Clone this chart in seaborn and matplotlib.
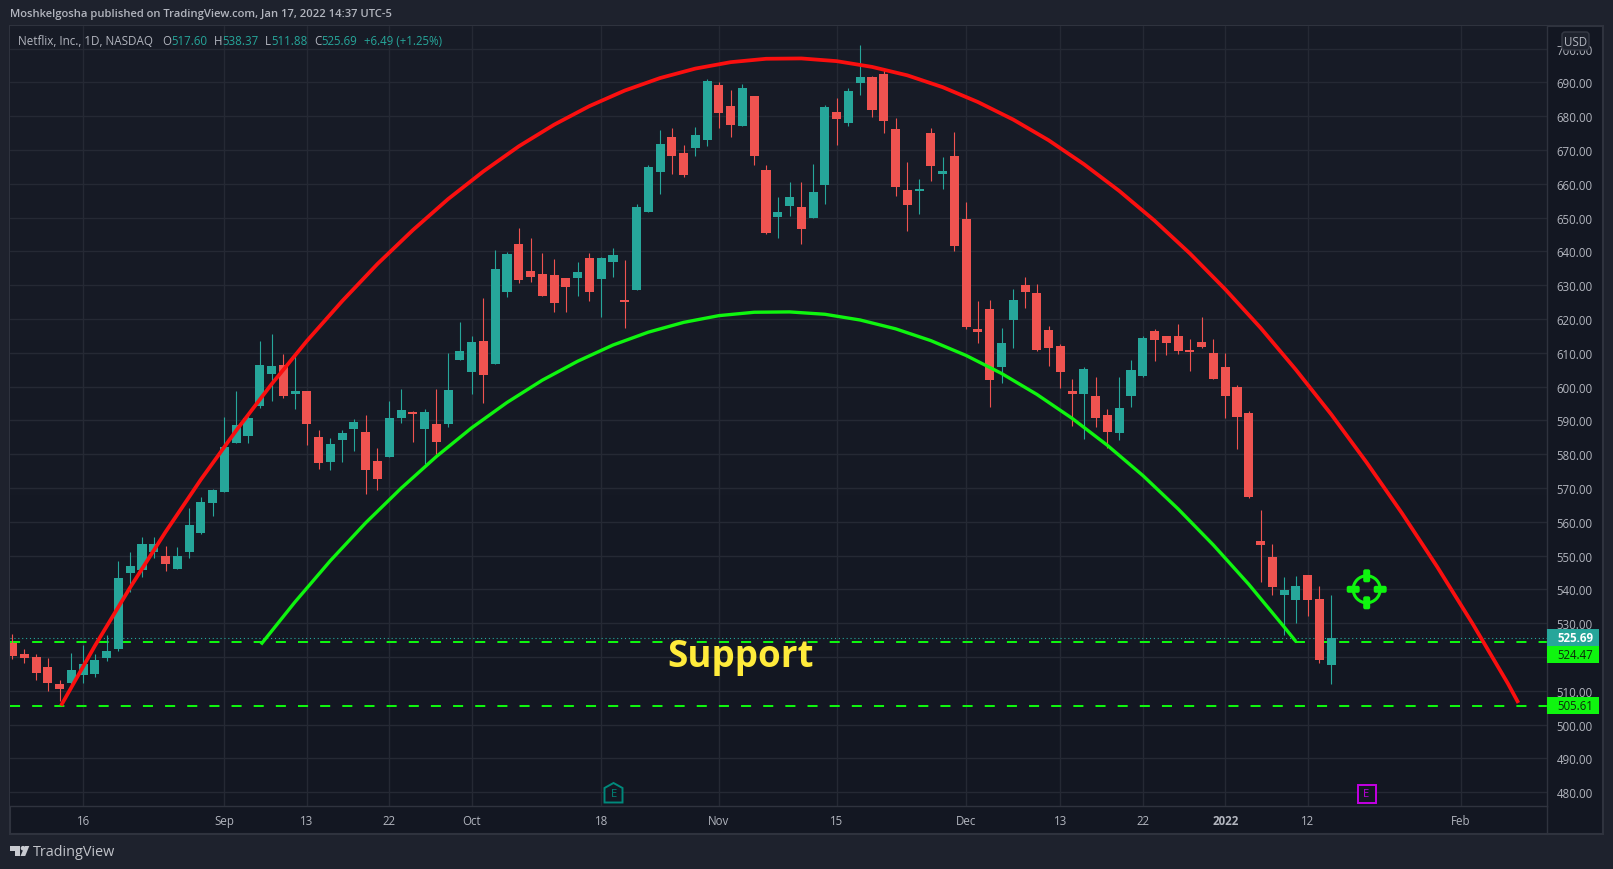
import numpy as np
import matplotlib
matplotlib.use("Agg")
import matplotlib.pyplot as plt
import seaborn as sns
from matplotlib.patches import Rectangle, Circle, Polygon, FancyBboxPatch
from matplotlib.transforms import IdentityTransform
from matplotlib.colors import LinearSegmentedColormap

tops = [524.2,521.0,519.9,516.9,511.9,516.0,517.8,519.0,521.9,543.5,546.8,553.3,553.3,550.0,550.0,558.9,566.0,569.3,582.0,588.5,
        590.6,606.5,606.0,606.5,598.6,598.6,585.0,582.9,586.4,589.4,586.7,578.1,590.6,593.2,592.3,592.6,588.8,598.9,610.6,613.2,
        613.6,634.8,639.2,642.2,634.2,633.3,633.0,632.2,633.9,638.1,638.1,639.0,625.6,653.2,665.0,671.8,673.9,669.1,674.4,690.4,
        689.2,683.0,688.4,686.0,664.1,651.7,656.1,653.2,657.6,682.7,681.3,687.5,691.6,691.6,692.5,676.2,658.2,658.5,675.0,663.8,
        668.3,649.6,617.1,623.0,612.9,625.7,630.1,627.7,616.8,612.1,598.7,605.2,597.3,591.6,593.7,605.0,614.4,616.5,615.0,615.0,
        610.9,613.2,610.0,605.8,599.9,592.2,554.3,549.6,539.8,541.0,544.2,537.1,525.69]
bottoms = [520.3,519.6,515.4,512.2,510.4,512.2,514.8,515.1,519.6,522.5,544.7,545.6,551.2,547.4,545.9,551.2,556.8,565.7,568.7,583.2,
           585.5,594.4,603.6,597.1,597.7,588.8,577.3,577.8,584.1,587.6,575.2,572.8,579.3,590.6,592.0,587.6,583.5,588.8,608.0,604.2,
           603.3,606.8,628.0,631.6,632.4,626.8,624.8,629.5,632.2,628.0,631.9,636.9,625.0,628.6,651.7,663.5,668.2,662.6,670.6,673.0,
           681.0,677.4,677.1,668.2,645.5,650.2,653.5,646.6,649.9,659.7,679.2,678.0,689.8,681.9,678.6,659.1,653.7,657.9,665.3,662.9,
           641.6,617.7,616.2,602.0,605.8,619.7,628.0,610.9,611.5,604.4,597.9,597.9,590.7,586.6,586.3,597.3,603.2,613.8,612.9,610.6,
           610.3,611.8,602.3,597.3,591.0,567.4,553.1,540.7,538.3,536.8,536.8,519.1,517.60]
highs = [526.7,522.5,520.8,519.6,513.1,521.3,523.4,520.8,526.4,548.3,551.2,555.4,555.4,552.7,552.4,564.2,567.2,569.6,590.9,598.6,
         591.8,613.6,615.6,609.5,609.5,598.6,587.3,584.7,587.3,590.3,591.5,581.7,595.6,599.2,592.9,593.5,599.4,609.8,619.0,615.0,
         626.2,640.4,639.8,646.9,644.0,639.5,637.8,632.2,636.9,639.5,638.4,641.0,637.5,654.0,665.6,675.9,676.5,671.5,676.8,691.0,
         690.1,687.8,689.5,686.0,665.6,656.1,660.6,660.6,665.9,683.3,685.4,688.4,701.1,691.9,694.3,679.5,666.5,661.4,676.5,668.0,
         675.4,654.7,625.4,625.7,617.4,628.9,632.5,630.4,618.0,612.6,602.3,605.8,602.9,593.4,602.9,607.9,615.0,617.1,615.0,618.6,
         614.1,620.6,614.1,610.0,600.5,592.8,563.5,553.4,543.6,543.9,544.2,541.0,538.37]
lows = [519.3,518.1,513.1,509.8,507.1,511.6,512.2,514.2,518.7,521.9,539.1,543.8,549.2,545.3,545.9,549.2,556.3,561.6,568.7,583.2,
        583.2,593.8,595.6,596.5,593.5,582.6,575.5,575.2,577.6,580.8,568.1,569.3,579.3,589.1,583.5,577.0,580.2,587.9,608.0,597.7,
        595.0,606.8,626.5,630.7,631.0,626.8,622.1,622.1,626.8,625.3,620.6,632.4,617.4,628.6,651.7,657.0,662.9,662.0,668.2,671.2,
        676.5,673.9,677.1,665.6,645.2,644.0,650.5,642.2,649.9,654.0,671.5,677.1,686.3,679.8,675.0,656.4,646.1,651.1,660.8,658.5,
        640.2,617.1,612.9,594.0,601.1,611.5,623.3,610.6,606.1,599.6,588.4,584.5,588.1,581.9,584.2,594.0,602.9,607.6,609.4,609.7,
        604.7,611.5,602.3,590.7,581.6,567.1,542.2,538.3,526.5,530.0,532.1,518.2,511.88]
rising = [0,0,0,0,0,1,1,1,1,1,1,1,1,0,1,1,1,1,1,1,
          1,1,1,0,1,0,0,1,1,1,0,0,1,1,0,1,0,1,1,1,
          0,1,1,0,0,0,0,0,1,0,1,1,0,1,1,1,0,0,1,1,
          0,0,1,0,0,1,1,0,1,1,0,1,1,0,0,0,0,1,0,1,
          0,0,0,0,1,1,0,0,0,0,0,1,0,0,1,1,1,0,0,0,
          0,0,0,0,0,0,0,0,1,1,0,0,1]

red_arc_x = [4.12,7,10,13,16,19,22,25,28,31,34,37,40,43,46,49,52,55,58,61,64,67,70,73,76,79,82,85,88,91,94,97,100,103,106,109,112,115,118,121,124,127,127.9]
red_arc_y = [505.6,523.3,540.6,557.0,572.5,587.0,600.7,613.5,625.3,636.3,646.3,655.5,663.7,671.1,677.5,683.0,687.6,691.3,694.1,696.0,697.0,
             697.1,696.3,694.6,692.1,688.6,684.2,679.0,672.9,665.8,657.9,649.1,639.4,628.8,617.4,605.0,591.8,577.6,562.6,546.7,529.9,512.2,506.4]
green_arc_x = [21.1,24,27,30,33,36,39,42,45,48,51,54,57,60,63,66,69,72,75,78,81,84,87,90,93,96,99,102,105,108,109]
green_arc_y = [523.7,536.3,548.5,559.7,569.9,579.3,587.8,595.3,601.9,607.5,612.3,616.1,619.0,621.0,622.0,622.1,621.4,619.7,617.1,613.6,609.2,
               603.9,597.7,590.6,582.6,573.7,563.8,553.1,541.5,528.9,524.6]

support_levels = [524.47, 505.61]
last_close = 525.69
price_ticks = list(range(480, 701, 10))
date_ticks = [6,18,25,32,39,50,60,70,81,89,96,103,110,123]
date_labels = ["16","Sep","13","22","Oct","18","Nov","15","Dec","13","22","2022","12","Feb"]

W, H = 1613, 870
BG, PANEL, GRID, AXC = "#1e222d", "#131722", "#252934", "#2f333e"
TXT, UP, DOWN = "#b2b5be", "#26a69a", "#ef5350"
LIME, RED, YEL = "#0ff50f", "#fa0f0f", "#ffeb3b"
FONT = ["Open Sans", "DejaVu Sans"]

sns.set_theme(style="dark", rc={"axes.facecolor": PANEL, "figure.facecolor": BG})
plt.rcParams["font.family"] = FONT

fig = plt.figure(figsize=(W/100, H/100), dpi=100, facecolor=BG)
ident = IdentityTransform()
def Y(y): return H - y

fig.add_artist(Rectangle((10, Y(835)), 1593, 808, transform=ident, fc=PANEL, ec=AXC, lw=1.5, zorder=-5))
ax = fig.add_axes([10/W, (H-807)/H, 1537/W, 780/H], zorder=1)
xlim = (-0.212, 130.33)
ylim = (475.9, 706.7)

cmap = LinearSegmentedColormap.from_list("bg", ["#181c27", "#131722"])
ax.imshow(np.linspace(0, 1, 256)[:, None], cmap=cmap, extent=(0, 1, 0, 1), transform=ax.transAxes,
          aspect="auto", zorder=0)

idx = np.arange(len(tops))
colors = [UP if r else DOWN for r in rising]
tops_a, bottoms_a = np.array(tops), np.array(bottoms)
ax.vlines(idx, lows, highs, colors=colors, lw=0.8, zorder=3)
ax.bar(idx, np.maximum(tops_a - bottoms_a, 0.4), bottom=bottoms_a, width=0.77, color=colors, linewidth=0, zorder=4)

for lvl in support_levels:
    ax.axhline(lvl, color=LIME, lw=1.45, ls=(0, (5, 6)), dash_capstyle="butt", zorder=2.5)
ax.axhline(last_close, color=UP, lw=0.8, ls=(0, (1, 2.5)), zorder=2)

sns.lineplot(x=red_arc_x, y=red_arc_y, color=RED, lw=2.7, sort=False, estimator=None, ax=ax, zorder=5,
             solid_capstyle="butt", solid_joinstyle="round")
sns.lineplot(x=green_arc_x, y=green_arc_y, color=LIME, lw=2.4, sort=False, estimator=None, ax=ax, zorder=5,
             solid_capstyle="butt", solid_joinstyle="round")

ax.set_xlim(xlim); ax.set_ylim(ylim)
ax.set_xticks(date_ticks); ax.set_xticklabels(date_labels)
ax.set_yticks(price_ticks); ax.set_yticklabels([f"{p:.2f}" for p in price_ticks])
ax.yaxis.tick_right()
ax.tick_params(axis="both", length=0, labelcolor=TXT, labelsize=8.3)
ax.tick_params(axis="x", pad=6)
ax.tick_params(axis="y", pad=7)
ax.grid(True, color=GRID, lw=1.0, zorder=1)
ax.set_axisbelow(True)
for s in ("top", "left"):
    ax.spines[s].set_visible(False)
for s in ("right", "bottom"):
    ax.spines[s].set_color(AXC); ax.spines[s].set_linewidth(1.0)
for lab in ax.get_xticklabels():
    if lab.get_text() == "2022":
        lab.set_fontweight("bold")
fig.add_artist(plt.Line2D([1547, 1547], [Y(807), Y(835)], transform=ident, color=AXC, lw=1.0, zorder=3))

# Text header
def T(x, y, s, color=TXT, size=8.3, **kw):
    kw.setdefault("va", "center"); kw.setdefault("ha", "left")
    return fig.text(x/W, (H-y)/H, s, color=color, fontsize=size, zorder=10, **kw)

T(10, 14.7, "Moshkelgosha published on TradingView.com, Jan 17, 2022 14:37 UTC-5", size=8.15, fontweight="semibold")
T(18, 41.5, "Netflix, Inc., 1D, NASDAQ", size=8.4)
for x, s, c in [(162.5,"O",TXT),(171,"517.60",UP),(213.5,"H",TXT),(222.5,"538.37",UP),(264.5,"L",TXT),(271,"511.88",UP),
                (314,"C",TXT),(321,"525.69",UP),(364,"+6.49 (+1.25%)",UP)]:
    T(x, 41.5, s, c, size=8.3)
T(667, 666.7, "Support", YEL, size=26.5, va="baseline", fontweight="bold")

# USD badge
fig.add_artist(FancyBboxPatch((1564, Y(49)), 23, 14, boxstyle="round,pad=2,rounding_size=3", transform=ident,
                              fc="#1e222d", ec="#363a45", lw=1, zorder=9))
T(1575.5, 42.5, "USD", size=8.3, ha="center")

# Price tags
for y0, y1, s, fc, tc, fw in [(630, 646.7, "525.69", UP, "#ffffff", "bold"),
                              (647, 664, "524.47", LIME, "#0b2a0b", "normal"),
                              (698, 715, "505.61", LIME, "#0b2a0b", "normal")]:
    fig.add_artist(Rectangle((1547, Y(y1)), 52, y1-y0, transform=ident, fc=fc, ec="none", zorder=9))
    T(1575, (y0+y1)/2, s, tc, size=8.3, ha="center", fontweight=fw)

# Target marker
cx, cy = 1366.7, 590.3
fig.add_artist(Circle((cx, Y(cy)), 13.5, transform=ident, fc="none", ec=LIME, lw=2.2, zorder=8))
for dx, dy, w, h in [(-20, -3.5, 13, 7), (7, -3.5, 13, 7), (-3.5, -20, 7, 13), (-3.5, 7, 7, 13)]:
    fig.add_artist(FancyBboxPatch((cx+dx+1, Y(cy)+dy+1), w-2, h-2, boxstyle="round,pad=1,rounding_size=2",
                                  transform=ident, fc=LIME, ec="none", zorder=8))

# Earnings markers
teal = "#00897b"
fig.add_artist(Polygon([(604.5, Y(803.5)), (622.5, Y(803.5)), (622.5, Y(789)), (613.5, Y(784)), (604.5, Y(789))],
                       closed=True, transform=ident, fc=PANEL, ec=teal, lw=1.4, zorder=8))
T(613.5, 795, "E", teal, size=8, ha="center")
fig.add_artist(Rectangle((1357.5, Y(803.5)), 18, 18, transform=ident, fc=PANEL, ec="#c400e4", lw=1.4, zorder=8))
T(1366.5, 795, "E", "#c400e4", size=8, ha="center")

# Logo
logo = "#c8cad0"
fig.add_artist(Polygon([(10,Y(847)),(20,Y(847)),(20,Y(857)),(14.5,Y(857)),(14.5,Y(851.5)),(10,Y(851.5))], closed=True,
                       transform=ident, fc=logo, ec="none", zorder=8))
fig.add_artist(Circle((23, Y(849.2)), 2.3, transform=ident, fc=logo, ec="none", zorder=8))
fig.add_artist(Polygon([(29.3,Y(847)),(25.2,Y(857)),(20.5,Y(857)),(24.8,Y(847))], closed=True,
                       transform=ident, fc=logo, ec="none", zorder=8))
T(33, 852.5, "TradingView", "#c2c4ca", size=10.4)

fig.savefig("out.png", dpi=100, facecolor=BG)
